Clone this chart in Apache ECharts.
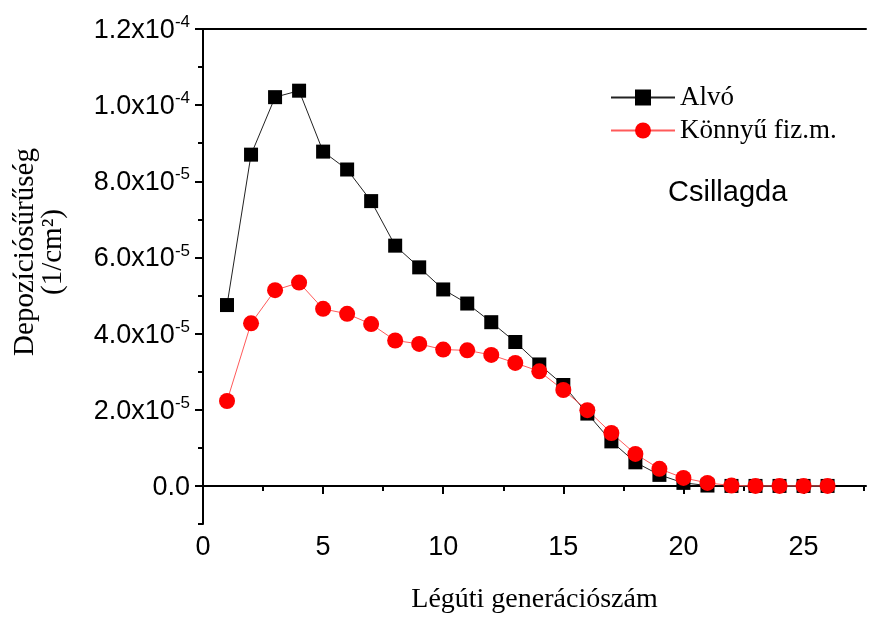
<!DOCTYPE html>
<html>
<head>
<meta charset="utf-8">
<title>Depozíciósűrűség</title>
<script src="https://cdn.jsdelivr.net/npm/echarts@6/dist/echarts.min.js"></script>
<style>
  html, body { margin: 0; padding: 0; background: #fff; }
  #main { width: 869px; height: 619px; }
</style>
</head>
<body>
<div id="main"></div>
<script>
// légúti generációk
var generations = [1, 2, 3, 4, 5, 6, 7, 8, 9, 10, 11, 12, 13, 14, 15, 16, 17, 18, 19, 20, 21, 22, 23, 24, 25, 26];
// Alvó (1/cm2)
var alvo = [4.75e-5, 8.70e-5, 10.21e-5, 10.38e-5, 8.78e-5, 8.31e-5, 7.48e-5, 6.31e-5, 5.74e-5, 5.16e-5,
  4.79e-5, 4.30e-5, 3.78e-5, 3.19e-5, 2.65e-5, 1.90e-5, 1.17e-5, 0.62e-5, 0.29e-5, 0.08e-5,
  0.01e-5, 0, 0, 0, 0, 0];
// Könnyű fizikai munka (1/cm2)
var konnyu = [2.23e-5, 4.27e-5, 5.14e-5, 5.34e-5, 4.65e-5, 4.52e-5, 4.25e-5, 3.82e-5, 3.73e-5, 3.58e-5,
  3.56e-5, 3.44e-5, 3.23e-5, 3.01e-5, 2.52e-5, 1.99e-5, 1.39e-5, 0.84e-5, 0.45e-5, 0.21e-5,
  0.08e-5, 0.01e-5, 0, 0, 0, 0];

// tengelyek
var xTicks = [0, 5, 10, 15, 20, 25];
var xMinorTicks = [2.5, 7.5, 12.5, 17.5, 22.5, 27.5];
var yTicks = [0, 2e-5, 4e-5, 6e-5, 8e-5, 1e-4, 1.2e-4];
var yTickLabels = [['0.0', ''], ['2.0x10', '-5'], ['4.0x10', '-5'], ['6.0x10', '-5'],
  ['8.0x10', '-5'], ['1.0x10', '-4'], ['1.2x10', '-4']];
var yMinorTicks = [-1e-5, 1e-5, 3e-5, 5e-5, 7e-5, 9e-5, 1.1e-4];

function pairs(ys) {
  return generations.map(function (g, i) { return [g, ys[i]]; });
}

function yLabel(value) {
  var best = 0;
  for (var i = 1; i < yTicks.length; i++) {
    if (Math.abs(yTicks[i] - value) < Math.abs(yTicks[best] - value)) best = i;
  }
  var l = yTickLabels[best];
  return l[1] ? '{m|' + l[0] + '}{s|' + l[1] + '}' : '{m|' + l[0] + '}';
}

var sans = 'Liberation Sans';
var serif = 'Liberation Serif';

var chart = echarts.init(document.getElementById('main'));
chart.setOption({
  animation: false,
  backgroundColor: '#fff',
  grid: { left: 203, right: 3, top: 29, bottom: 88 },
  legend: {
    orient: 'vertical',
    left: 605,
    top: 79,
    itemWidth: 64,
    itemHeight: 20,
    itemGap: 6,
    data: ['Alvó', 'Könnyű fiz.m.'],
    textStyle: { fontFamily: serif, fontSize: 27, color: '#000' }
  },
  graphic: [
    {
      type: 'text',
      left: 668,
      top: 178,
      style: { text: 'Csillagda', fontFamily: sans, fontSize: 29, fill: '#000' }
    },
    {
      type: 'text',
      x: 39,
      y: 252,
      rotation: Math.PI / 2,
      style: {
        text: 'Depozíciósűrűség\n(1/cm²)',
        fontFamily: serif,
        fontSize: 29,
        lineHeight: 28,
        align: 'center',
        verticalAlign: 'middle',
        fill: '#000'
      }
    }
  ],
  xAxis: [
    {
      type: 'value',
      min: 0,
      max: 27.6,
      position: 'bottom',
      name: 'Légúti generációszám',
      nameLocation: 'middle',
      nameGap: 62,
      nameTextStyle: { fontFamily: serif, fontSize: 28, color: '#000' },
      splitLine: { show: false },
      axisLine: { lineStyle: { color: '#000', width: 2 } },
      axisTick: { customValues: xTicks, length: 8, lineStyle: { color: '#000', width: 2 } },
      axisLabel: { customValues: xTicks, margin: 10, fontFamily: sans, fontSize: 27, color: '#000' }
    },
    {
      type: 'value',
      min: 0,
      max: 27.6,
      position: 'bottom',
      offset: 0,
      splitLine: { show: false },
      axisLine: { show: false },
      axisTick: { customValues: xMinorTicks, length: 5, lineStyle: { color: '#000', width: 2 } },
      axisLabel: { show: false }
    },
    {
      type: 'value',
      min: 0,
      max: 27.6,
      position: 'top',
      splitLine: { show: false },
      axisLine: { lineStyle: { color: '#000', width: 2 } },
      axisTick: { show: false },
      axisLabel: { show: false }
    }
  ],
  yAxis: [
    {
      type: 'value',
      min: -1e-5,
      max: 1.2e-4,
      position: 'left',
      splitLine: { show: false },
      axisLine: { show: true, lineStyle: { color: '#000', width: 2 } },
      axisTick: { show: true, customValues: yTicks, length: 8, lineStyle: { color: '#000', width: 2 } },
      axisLabel: {
        customValues: yTicks,
        margin: 13,
        formatter: yLabel,
        rich: {
          m: { fontFamily: sans, fontSize: 27, color: '#000', lineHeight: 30, verticalAlign: 'bottom' },
          s: { fontFamily: sans, fontSize: 17, color: '#000', lineHeight: 30, verticalAlign: 'top' }
        }
      }
    },
    {
      type: 'value',
      min: -1e-5,
      max: 1.2e-4,
      position: 'left',
      offset: 0,
      splitLine: { show: false },
      axisLine: { show: false },
      axisTick: { show: true, customValues: yMinorTicks, length: 5, lineStyle: { color: '#000', width: 2 } },
      axisLabel: { show: false }
    }
  ],
  series: [
    {
      name: 'Alvó',
      type: 'line',
      data: pairs(alvo),
      symbol: 'rect',
      symbolSize: 14,
      itemStyle: { color: '#000' },
      lineStyle: { color: '#222', width: 1 }
    },
    {
      name: 'Könnyű fiz.m.',
      type: 'line',
      data: pairs(konnyu),
      symbol: 'circle',
      symbolSize: 16,
      itemStyle: { color: '#ff0000' },
      lineStyle: { color: '#ff5a5a', width: 1 }
    }
  ]
});
</script>
</body>
</html>
